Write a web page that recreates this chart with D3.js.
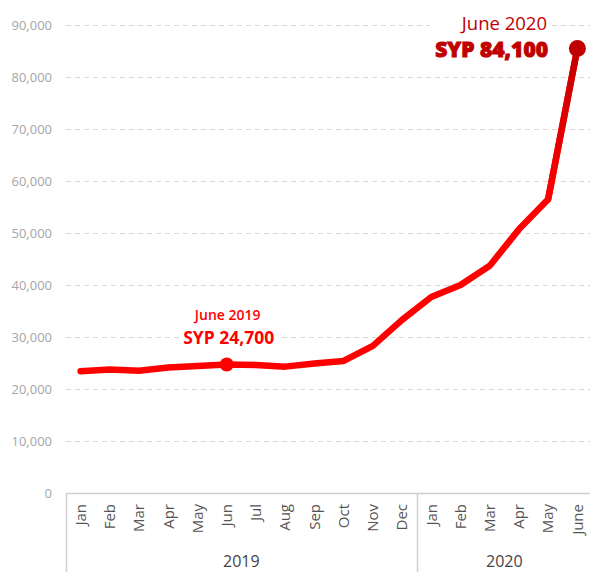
<!DOCTYPE html>
<html>
<head>
<meta charset="utf-8">
<script src="https://cdn.jsdelivr.net/npm/d3@7"></script>
<style>
  body { margin: 0; background: #fff; }
  text { font-family: "Open Sans", sans-serif; }
</style>
</head>
<body>
<div id="chart"></div>
<script>
var width = 590, height = 572;
var margin = { top: 25, right: -2, bottom: 79, left: 66 };

// data
var months = ["Jan", "Feb", "Mar", "Apr", "May", "Jun", "Jul", "Aug", "Sep", "Oct", "Nov", "Dec",
              "Jan", "Feb", "Mar", "Apr", "May", "June"];
var years = ["2019", "2019", "2019", "2019", "2019", "2019", "2019", "2019", "2019", "2019", "2019", "2019",
             "2020", "2020", "2020", "2020", "2020", "2020"];
var prices = [23400, 23750, 23500, 24150, 24400, 24700, 24600, 24300, 24900, 25400, 28300, 33300,
              37700, 40000, 43700, 50700, 56500, 85500];
var yTicks = [0, 10000, 20000, 30000, 40000, 50000, 60000, 70000, 80000, 90000];
var yearGroups = ["2019", "2020"];

var data = months.map(function(m, i) {
    return { key: years[i] + "-" + m, month: m, year: years[i], value: prices[i] };
});

var x = d3.scaleBand()
    .domain(data.map(function(d) { return d.key; }))
    .range([margin.left, width - margin.right]);

var y = d3.scaleLinear()
    .domain([0, 90000])
    .range([height - margin.bottom, margin.top]);

var cx = function(d) { return x(d.key) + x.bandwidth() / 2; };

var svg = d3.select("#chart")
    .append("svg")
    .attr("width", width)
    .attr("height", height);

//gridlines
svg.append("g")
    .selectAll("line")
    .data(yTicks.filter(function(t) { return t > 0; }))
    .join("line")
    .attr("x1", margin.left)
    .attr("x2", width)
    .attr("y1", function(d) { return y(d) + 0.5; })
    .attr("y2", function(d) { return y(d) + 0.5; })
    .attr("stroke", "#d9d9d9")
    .attr("stroke-width", 1)
    .attr("stroke-dasharray", "5,4");

//y axis labels
var yAxis = d3.axisLeft(y).tickValues(yTicks).tickSize(0).tickPadding(14)
    .tickFormat(d3.format(","));
svg.append("g")
    .attr("transform", "translate(" + margin.left + ",0)")
    .call(yAxis)
    .call(function(g) { g.select(".domain").remove(); })
    .selectAll("text")
    .attr("fill", "#a6a6a6")
    .style("font-size", "13px")
    .style("font-family", "'Open Sans', sans-serif");

//x axis
var base = y(0);
svg.append("line")
    .attr("x1", margin.left).attr("x2", width)
    .attr("y1", base + 0.5).attr("y2", base + 0.5)
    .attr("stroke", "#cfcfcf").attr("stroke-width", 1.5);

var xAxis = d3.axisBottom(x).tickSize(0).tickPadding(0)
    .tickFormat(function(k) { return k.split("-")[1]; });
svg.append("g")
    .attr("transform", "translate(0," + base + ")")
    .call(xAxis)
    .call(function(g) { g.select(".domain").remove(); })
    .selectAll("text")
    .attr("transform", "rotate(-90)")
    .attr("x", -11)
    .attr("y", 0)
    .attr("dy", "0.35em")
    .attr("text-anchor", "end")
    .attr("fill", "#555")
    .style("font-size", "15px")
    .style("font-family", "'Open Sans', sans-serif");

//year group separators and labels
var groupStart = function(yr) { return d3.min(data.filter(function(d) { return d.year === yr; }), function(d) { return x(d.key); }); };
var groupEnd = function(yr) { return d3.max(data.filter(function(d) { return d.year === yr; }), function(d) { return x(d.key) + x.bandwidth(); }); };

svg.append("g")
    .selectAll("line")
    .data(yearGroups)
    .join("line")
    .attr("x1", function(d) { return Math.round(groupStart(d)) + 0.5; })
    .attr("x2", function(d) { return Math.round(groupStart(d)) + 0.5; })
    .attr("y1", base)
    .attr("y2", height)
    .attr("stroke", "#cfcfcf")
    .attr("stroke-width", 1.5);

svg.append("g")
    .selectAll("text")
    .data(yearGroups)
    .join("text")
    .attr("x", function(d) { return (groupStart(d) + groupEnd(d)) / 2; })
    .attr("y", height - 5)
    .attr("text-anchor", "middle")
    .attr("fill", "#444")
    .style("font-size", "16px")
    .text(function(d) { return d; });

//line
var line = d3.line()
    .x(cx)
    .y(function(d) { return y(d.value); });

svg.append("path")
    .datum(data)
    .attr("d", line)
    .attr("fill", "none")
    .attr("stroke", "#ff0000")
    .attr("stroke-width", 6.5)
    .attr("stroke-linejoin", "round")
    .attr("stroke-linecap", "round");

// last segment fades to dark red
var lastTwo = data.slice(-2);
var grad = svg.append("defs").append("linearGradient")
    .attr("id", "lastSeg")
    .attr("gradientUnits", "userSpaceOnUse")
    .attr("x1", 0).attr("x2", 0)
    .attr("y1", y(lastTwo[0].value)).attr("y2", y(lastTwo[1].value));
grad.append("stop").attr("offset", "0%").attr("stop-color", "#ff0000");
grad.append("stop").attr("offset", "100%").attr("stop-color", "#c00000");

svg.append("path")
    .datum(lastTwo)
    .attr("d", line)
    .attr("fill", "none")
    .attr("stroke", "url(#lastSeg)")
    .attr("stroke-width", 6.5)
    .attr("stroke-linecap", "round");

//markers
var jun19 = data[5], jun20 = data[17];
svg.append("circle")
    .attr("cx", cx(jun19)).attr("cy", y(jun19.value))
    .attr("r", 7).attr("fill", "#ff0000");
svg.append("circle")
    .attr("cx", cx(jun20)).attr("cy", y(jun20.value))
    .attr("r", 8.5).attr("fill", "#c00000");

//annotations
var a19 = svg.append("g");
a19.append("rect")
    .attr("x", cx(jun19) - 45).attr("y", 300)
    .attr("width", 98).attr("height", 50)
    .attr("fill", "#fff");
a19.append("text")
    .attr("x", cx(jun19) + 1).attr("y", 320)
    .attr("text-anchor", "middle")
    .attr("fill", "#ff0000")
    .style("font-size", "14px")
    .style("font-weight", 600)
    .text("June 2019");
a19.append("text")
    .attr("x", cx(jun19) + 2).attr("y", 344)
    .attr("text-anchor", "middle")
    .attr("fill", "#ff0000")
    .style("font-size", "17.5px")
    .style("font-weight", 700)
    .text("SYP 24,700");

var a20 = svg.append("g");
a20.append("rect")
    .attr("x", 430).attr("y", 9)
    .attr("width", 122).attr("height", 54)
    .attr("fill", "#fff");
a20.append("text")
    .attr("x", 547).attr("y", 30)
    .attr("text-anchor", "end")
    .attr("fill", "#c00000")
    .style("font-size", "18.5px")
    .text("June 2020");
a20.append("text")
    .attr("x", 548).attr("y", 57)
    .attr("text-anchor", "end")
    .attr("fill", "#c00000")
    .attr("stroke", "#c00000")
    .attr("stroke-width", 1)
    .style("font-size", "21px")
    .style("font-weight", 800)
    .text("SYP 84,100");
</script>
</body>
</html>
